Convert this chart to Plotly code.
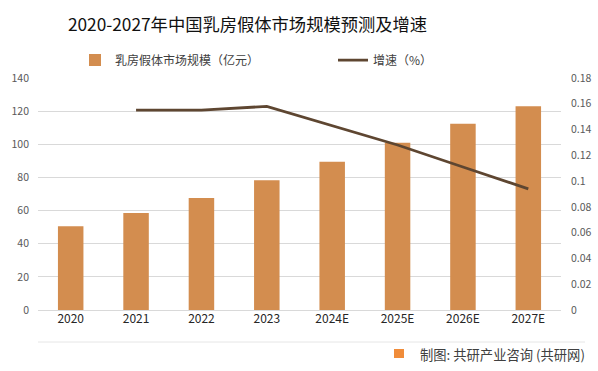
import plotly.graph_objects as go

categories = ["2020", "2021", "2022", "2023", "2024E", "2025E", "2026E", "2027E"]
market_size = [50.6, 58.5, 67.6, 78.3, 89.5, 101.0, 112.4, 123.0]
growth_categories = ["2021", "2022", "2023", "2024E", "2025E", "2026E", "2027E"]
growth_rate = [0.155, 0.155, 0.158, 0.143, 0.128, 0.111, 0.094]
left_ticks = [0, 20, 40, 60, 80, 100, 120, 140]
right_ticks = [0, 0.02, 0.04, 0.06, 0.08, 0.1, 0.12, 0.14, 0.16, 0.18]

FONT = "Noto Sans CJK SC"
BAR_COLOR = "#D38D4F"
LINE_COLOR = "#5E4631"
GRID = "#D9D9D9"

fig = go.Figure()
fig.add_trace(go.Bar(
    x=categories, y=market_size, name="乳房假体市场规模（亿元）",
    marker=dict(color=BAR_COLOR, line=dict(width=0)), width=0.39, yaxis="y",
    legend="legend",
))
fig.add_trace(go.Scatter(
    x=growth_categories, y=growth_rate, name="增速（%）", mode="lines",
    line=dict(color=LINE_COLOR, width=2.75), yaxis="y2", legend="legend2",
))

W, H = 598, 371
L, R, T, B = 38, 37, 78, 61
pw, ph = W - L - R, H - T - B

def px(x):
    return (x - L) / pw

def py(y):
    return (H - B - y) / ph

legend_common = dict(orientation="h", xanchor="left", yanchor="middle",
                     font=dict(size=12, color="#404040", family=FONT),
                     bgcolor="rgba(0,0,0,0)", borderwidth=0)

fig.update_layout(
    width=W, height=H,
    margin=dict(l=L, r=R, t=T, b=B, autoexpand=False),
    paper_bgcolor="white", plot_bgcolor="white",
    font=dict(family=FONT, color="#404040"),
    title=dict(text="2020-2027年中国乳房假体市场规模预测及增速",
               x=247.5 / W, xanchor="center", y=1 - 25 / H, yanchor="middle",
               font=dict(size=17.3, color="#111111", family=FONT)),
    showlegend=True,
    legend=dict(x=px(75), y=py(60), **legend_common),
    legend2=dict(x=px(333), y=py(60), **legend_common),
    xaxis=dict(type="category", categoryorder="array", categoryarray=categories,
               showgrid=False, showline=False, ticks="",
               tickfont=dict(size=12, color="#262626", family=FONT),
               range=[-0.5, len(categories) - 0.5]),
    yaxis=dict(range=[0, 140], tickvals=left_ticks, showgrid=True, gridcolor=GRID, gridwidth=1,
               zeroline=True, zerolinecolor=GRID, zerolinewidth=1, showline=False, ticks="",
               tickfont=dict(size=10.5, color="#595959", family=FONT), ticklabelstandoff=8),
    yaxis2=dict(range=[0, 0.18], tickvals=right_ticks,
                ticktext=[("%g" % v) for v in right_ticks],
                overlaying="y", side="right", showgrid=False, zeroline=False, showline=False,
                ticks="", tickfont=dict(size=10.5, color="#595959", family=FONT),
                ticklabelstandoff=9),
    shapes=[
        dict(type="line", xref="paper", yref="paper", x0=0, x1=px(585), y0=py(342), y1=py(342),
             line=dict(color="#E6E6E6", width=1)),
        dict(type="rect", xref="paper", yref="paper", x0=px(394), x1=px(404), y0=py(358), y1=py(349),
             fillcolor="#F08C3A", line=dict(width=0)),
    ],
    annotations=[
        dict(text="制图: 共研产业咨询 (共研网)", xref="paper", yref="paper", x=px(418), y=py(354),
             xanchor="left", yanchor="middle", showarrow=False,
             font=dict(size=13.3, color="#404040", family=FONT)),
    ],
)

fig.write_html("out.html", config={"displayModeBar": False},
               post_script="document.body.style.margin='0';document.body.style.overflow='hidden';")
